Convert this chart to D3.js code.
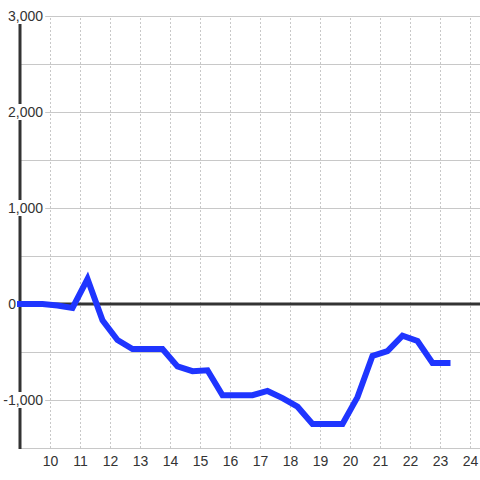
<!DOCTYPE html>
<html>
<head>
<meta charset="utf-8">
<script src="https://cdn.jsdelivr.net/npm/d3@7"></script>
<style>
  body { margin: 0; background: #fff; }
  svg { display: block; font-family: "Liberation Sans", Arial, sans-serif; }
</style>
</head>
<body>
<div id="chart"></div>
<script>
// data
const times = [8.75, 9.25, 9.75, 10.25, 10.75, 11.25, 11.75, 12.25, 12.75, 13.25,
  13.75, 14.25, 14.75, 15.25, 15.75, 16.25, 16.75, 17.25, 17.75, 18.25,
  18.75, 19.25, 19.75, 20.25, 20.75, 21.25, 21.75, 22.25, 22.75, 23.25];
const values = [0, 0, 0, -15, -40, 260, -170, -375, -470, -470,
  -470, -650, -700, -690, -950, -950, -950, -906, -980, -1070,
  -1250, -1250, -1250, -970, -540, -490, -330, -385, -615, -615];
const xTicks = [10, 11, 12, 13, 14, 15, 16, 17, 18, 19, 20, 21, 22, 23, 24];
const yGrid = [-1500, -1000, -500, 0, 500, 1000, 1500, 2000, 2500, 3000];
const yLabels = [-1000, 0, 1000, 2000, 3000];

const W = 480, H = 480;
const plotL = 20, plotR = 480, plotT = 16, plotB = 448;

const svg = d3.select("#chart").append("svg")
  .attr("width", W)
  .attr("height", H);

svg.append("defs").append("clipPath").attr("id", "lineclip")
  .append("rect")
  .attr("x", 17).attr("y", 0)
  .attr("width", W - 17).attr("height", H);

const x = d3.scaleLinear().domain([9, 9 + (plotR - plotL) / 30]).range([plotL, plotR]);
const y = d3.scaleLinear().domain([-1500, 3000]).range([plotB, plotT]);

// vertical dotted grid + x labels
const xAxis = svg.append("g")
  .attr("transform", "translate(0," + plotB + ")")
  .call(d3.axisBottom(x).tickValues(xTicks).tickSize(-(plotB - plotT)).tickPadding(0).tickFormat(d3.format("d")));
xAxis.select(".domain").remove();
xAxis.selectAll("line")
  .attr("stroke", "#c8c8c8")
  .attr("stroke-dasharray", "2,2");
xAxis.selectAll("text")
  .attr("y", 18)
  .attr("dy", 0)
  .attr("fill", "#333")
  .style("font-size", "14px");

// horizontal grid
const yAxis = svg.append("g")
  .attr("transform", "translate(" + plotL + ",0)")
  .call(d3.axisLeft(y).tickValues(yGrid).tickSize(-(plotR - plotL)).tickFormat(""));
yAxis.select(".domain").remove();
yAxis.selectAll("line").attr("stroke", "#c8c8c8");

// left axis line
svg.append("line")
  .attr("x1", plotL).attr("x2", plotL)
  .attr("y1", plotT).attr("y2", plotB + 1)
  .attr("stroke", "#333")
  .attr("stroke-width", 3);

// zero line
svg.append("line")
  .attr("x1", plotL).attr("x2", plotR)
  .attr("y1", y(0)).attr("y2", y(0))
  .attr("stroke", "#333")
  .attr("stroke-width", 3);

// data line
const pts = times.map((t, i) => [t, values[i]]);
svg.append("g")
  .attr("clip-path", "url(#lineclip)")
  .append("path")
  .datum(pts)
  .attr("fill", "none")
  .attr("stroke", "#1f35ff")
  .attr("stroke-width", 6)
  .attr("stroke-linecap", "square")
  .attr("d", d3.line().x(d => x(d[0])).y(d => y(d[1])));

// y labels with white boxes
const fmt = d3.format(",");
const lab = svg.append("g").selectAll("g")
  .data(yLabels)
  .enter()
  .append("g")
  .attr("transform", d => "translate(" + (d === 0 ? 16 : 43) + "," + y(d) + ")");
lab.append("text")
  .attr("text-anchor", "end")
  .attr("dy", 5)
  .attr("fill", "#333")
  .style("font-size", "14px")
  .text(d => fmt(d).replace("−", "-"));
lab.filter(d => d !== 0).each(function() {
  const b = d3.select(this).select("text").node().getBBox();
  d3.select(this).insert("rect", "text")
    .attr("x", b.x - 1)
    .attr("y", -8)
    .attr("width", b.width + 3)
    .attr("height", 16)
    .attr("fill", "#fff");
});
</script>
</body>
</html>
